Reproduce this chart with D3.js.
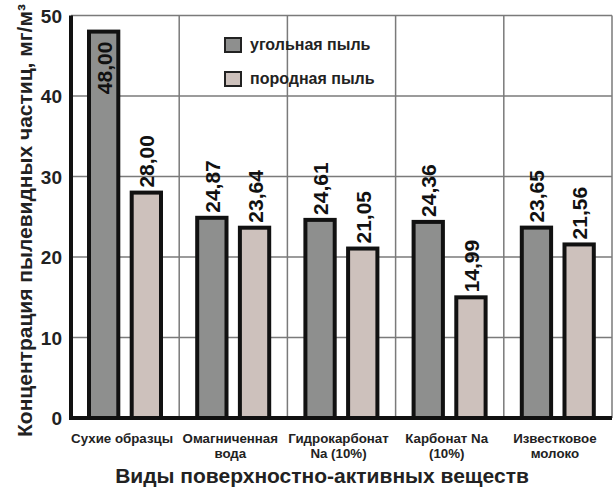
<!DOCTYPE html>
<html>
<head>
<meta charset="utf-8">
<script src="https://cdn.jsdelivr.net/npm/d3@7"></script>
<style>
  body { margin: 0; background: #fff; }
  svg { font-family: Arial, "Liberation Sans", sans-serif; font-weight: bold; }
</style>
</head>
<body>
<svg id="chart" width="614" height="488"></svg>
<script>
// categories (x tick labels, split into lines)
const categories = [
    ["Сухие образцы"],
    ["Омагниченная", "вода"],
    ["Гидрокарбонат", "Na (10%)"],
    ["Карбонат Na", "(10%)"],
    ["Известковое", "молоко"]
];
const seriesNames = ["угольная пыль", "породная пыль"];
const coalDust = [48.00, 24.87, 24.61, 24.36, 23.65];
const rockDust = [28.00, 23.64, 21.05, 14.99, 21.56];
const yTicks = [0, 10, 20, 30, 40, 50];

const colors = ["#8e8f8e", "#cdc1bc"];

const svg = d3.select("#chart");
const margin = {left: 71, right: 2, top: 15, bottom: 70};
const width = 614, height = 488;

/** scales */
const x0 = d3.scaleBand()
             .domain(d3.range(categories.length))
             .range([margin.left, width - margin.right])
             .padding(0);
const x1 = d3.scaleBand()
             .domain([0, 1])
             .range([16, 92])
             .paddingInner(0.22);
const y = d3.scaleLinear()
            .domain([0, 50])
            .range([418, 15.5]);

// gridlines (horizontal)
svg.append("g")
   .selectAll("line")
   .data(yTicks.filter(t => t > 0))
   .join("line")
   .attr("x1", margin.left).attr("x2", width - margin.right)
   .attr("y1", d => y(d)).attr("y2", d => y(d))
   .attr("stroke", "#7a7a7a").attr("stroke-width", 1.5);

// gridlines (vertical, category boundaries)
svg.append("g")
   .selectAll("line")
   .data(d3.range(1, categories.length + 1))
   .join("line")
   .attr("x1", d => x0.step() * d + margin.left)
   .attr("x2", d => x0.step() * d + margin.left)
   .attr("y1", y(50)).attr("y2", y(0))
   .attr("stroke", "#7a7a7a").attr("stroke-width", 1.5);

// legend
const legend = svg.append("g").attr("transform", "translate(224,37)");
seriesNames.forEach((name, i) => {
    legend.append("rect")
          .attr("x", 1).attr("y", i * 34 + 1)
          .attr("width", 16).attr("height", 14)
          .attr("fill", colors[i])
          .attr("stroke", "#222").attr("stroke-width", 2);
    legend.append("text")
          .attr("x", 26).attr("y", i * 34 + 13)
          .attr("font-size", 16)
          .attr("fill", "#222")
          .text(name);
});

// bars
const rows = categories.map((c, i) => [coalDust[i], rockDust[i]]);
const groups = svg.append("g")
                  .selectAll("g")
                  .data(rows)
                  .join("g")
                  .attr("transform", (d, i) => "translate(" + x0(i) + ",0)");

groups.selectAll("rect")
      .data(d => d.map((v, s) => ({v: v, s: s})))
      .join("rect")
      .attr("x", d => x1(d.s) + 2)
      .attr("width", x1.bandwidth() - 4)
      .attr("y", d => y(d.v))
      .attr("height", d => y(0) - y(d.v))
      .attr("fill", d => colors[d.s])
      .attr("stroke", "#111")
      .attr("stroke-width", 4);

// value labels (rotated); the tallest one sits inside its bar
groups.selectAll("text")
      .data(d => d.map((v, s) => ({v: v, s: s})))
      .join("text")
      .attr("transform", d => {
          let cx = x1(d.s) + x1.bandwidth() / 2 + 8;
          let inside = d.v > 45;
          let ty = inside ? y(d.v) + 10 : y(d.v) - 5;
          return "translate(" + cx + "," + ty + ") rotate(-90)";
      })
      .attr("text-anchor", d => d.v > 45 ? "end" : "start")
      .attr("font-size", 21)
      .attr("fill", "#111")
      .text(d => d3.format(".2f")(d.v).replace(".", ","));

// axes lines
svg.append("line")
   .attr("x1", margin.left).attr("x2", margin.left)
   .attr("y1", y(50)).attr("y2", y(0) + 2)
   .attr("stroke", "#111").attr("stroke-width", 4);
svg.append("line")
   .attr("x1", margin.left - 2).attr("x2", width - margin.right)
   .attr("y1", y(0)).attr("y2", y(0))
   .attr("stroke", "#111").attr("stroke-width", 4);

// y tick labels
svg.append("g")
   .selectAll("text")
   .data(yTicks)
   .join("text")
   .attr("x", 62)
   .attr("y", d => y(d) + 7)
   .attr("text-anchor", "end")
   .attr("font-size", 19)
   .attr("fill", "#222")
   .text(d => d);

// x tick labels
svg.append("g")
   .selectAll("text")
   .data(categories)
   .join("text")
   .attr("x", (d, i) => x0(i) + x0.bandwidth() / 2 - 3)
   .attr("y", 443)
   .attr("text-anchor", "middle")
   .attr("font-size", 13.3)
   .attr("fill", "#222")
   .selectAll("tspan")
   .data(d => d)
   .join("tspan")
   .attr("x", function() { return d3.select(this.parentNode).attr("x"); })
   .attr("dy", (d, i) => i === 0 ? 0 : 15)
   .text(d => d);

// axis titles
svg.append("text")
   .attr("x", 322).attr("y", 483)
   .attr("text-anchor", "middle")
   .attr("font-size", 21)
   .attr("fill", "#222")
   .text("Виды поверхностно-активных веществ");

svg.append("text")
   .attr("transform", "translate(32,437) rotate(-90)")
   .attr("font-size", 21)
   .attr("fill", "#222")
   .text("Концентрация пылевидных частиц, мг/м³");
</script>
</body>
</html>
